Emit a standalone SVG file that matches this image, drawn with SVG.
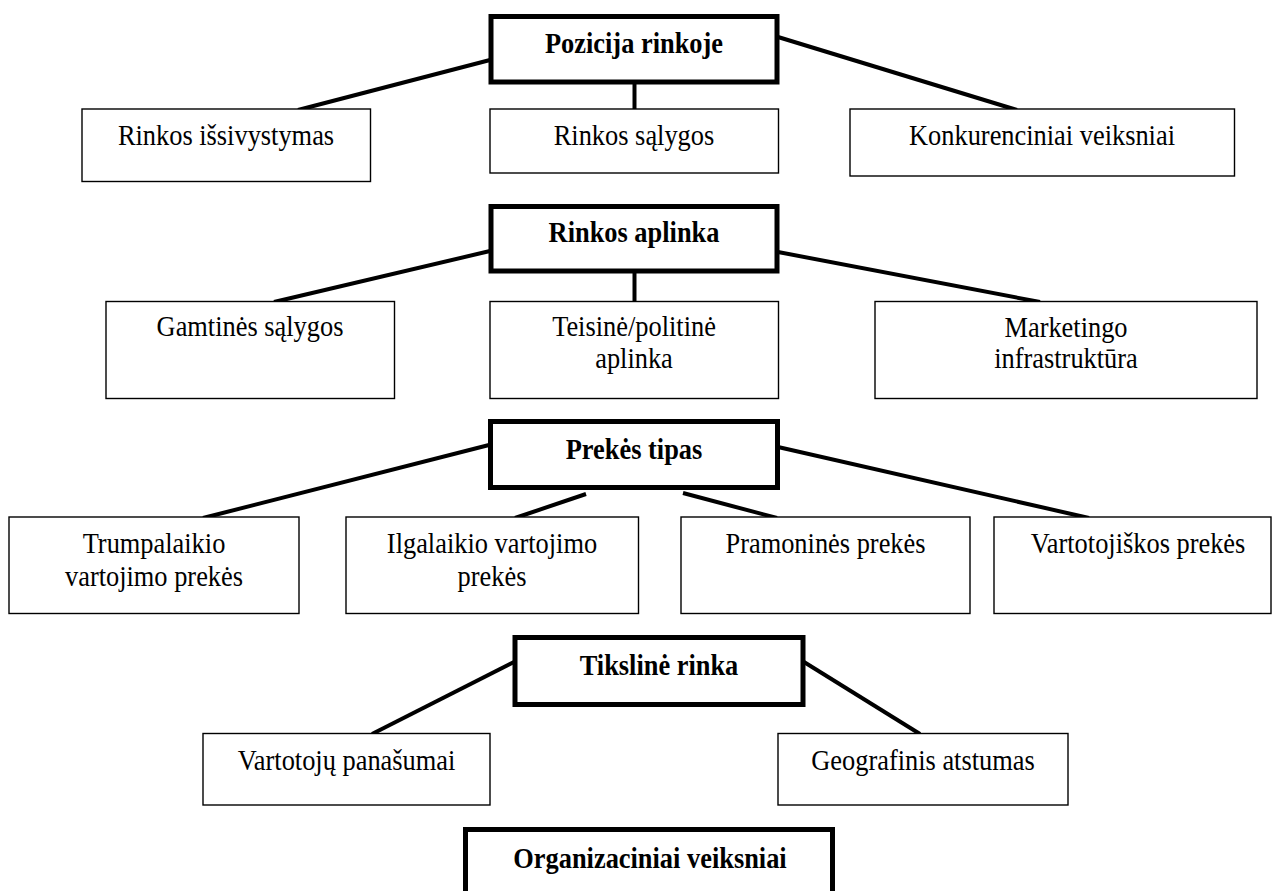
<svg xmlns="http://www.w3.org/2000/svg" width="1273" height="891" viewBox="0 0 1273 891">
  <style>
    .box { fill: #fff; stroke: #000; stroke-width: 1.4; }
    .hub { fill: #fff; stroke: #000; stroke-width: 5; }
    .lbl { font-family: "Liberation Serif", "Times New Roman", serif; font-size: 29px; text-anchor: middle; fill: #000; }
    .hdr { font-weight: bold; }
    .wire { stroke: #000; stroke-width: 4; fill: none; }
  </style>
  <rect width="1273" height="891" fill="#fff"/>

  <!-- connectors -->
  <g id="connectors">
    <line class="wire" x1="490" y1="60" x2="298" y2="110"/>
    <line class="wire" x1="634.5" y1="84" x2="634.5" y2="110"/>
    <line class="wire" x1="778" y1="37" x2="1017" y2="110"/>

    <line class="wire" x1="490" y1="251" x2="274" y2="302"/>
    <line class="wire" x1="634.5" y1="273" x2="634.5" y2="302"/>
    <line class="wire" x1="778" y1="252" x2="1040" y2="302"/>

    <line class="wire" x1="489" y1="445" x2="203" y2="518"/>
    <line class="wire" x1="586" y1="494" x2="515" y2="518"/>
    <line class="wire" x1="683" y1="493" x2="777" y2="518"/>
    <line class="wire" x1="778" y1="447" x2="1089" y2="518"/>

    <line class="wire" x1="514" y1="662" x2="372" y2="734"/>
    <line class="wire" x1="804" y1="662" x2="920" y2="734"/>
  </g>

  <!-- Pozicija rinkoje -->
  <g id="pozicija-rinkoje">
    <rect class="hub" x="491" y="16.5" width="286" height="65.5"/>
    <text class="lbl hdr" transform="translate(634 52.5) scale(0.91 1)">Pozicija rinkoje</text>
  </g>
  <g id="rinkos-issivystymas">
    <rect class="box" x="82" y="109" width="288.5" height="72.5"/>
    <text class="lbl" transform="translate(226 145) scale(0.91 1)">Rinkos išsivystymas</text>
  </g>
  <g id="rinkos-salygos">
    <rect class="box" x="490" y="109" width="288.5" height="64"/>
    <text class="lbl" transform="translate(634 145) scale(0.91 1)">Rinkos sąlygos</text>
  </g>
  <g id="konkurenciniai-veiksniai">
    <rect class="box" x="850" y="109" width="384.5" height="67"/>
    <text class="lbl" transform="translate(1042 145) scale(0.91 1)">Konkurenciniai veiksniai</text>
  </g>

  <!-- Rinkos aplinka -->
  <g id="rinkos-aplinka">
    <rect class="hub" x="491" y="206.5" width="286" height="64.5"/>
    <text class="lbl hdr" transform="translate(634 242) scale(0.91 1)">Rinkos aplinka</text>
  </g>
  <g id="gamtines-salygos">
    <rect class="box" x="106" y="301.5" width="288.5" height="97"/>
    <text class="lbl" transform="translate(250 335.5) scale(0.91 1)">Gamtinės sąlygos</text>
  </g>
  <g id="teisine-politine-aplinka">
    <rect class="box" x="490" y="301.5" width="288.5" height="97"/>
    <text class="lbl" transform="translate(634 335.5) scale(0.91 1)">Teisinė/politinė</text>
    <text class="lbl" transform="translate(634 368) scale(0.91 1)">aplinka</text>
  </g>
  <g id="marketingo-infrastruktura">
    <rect class="box" x="875" y="301.5" width="382" height="97"/>
    <text class="lbl" transform="translate(1066 336.5) scale(0.91 1)">Marketingo</text>
    <text class="lbl" transform="translate(1066 367.5) scale(0.91 1)">infrastruktūra</text>
  </g>

  <!-- Prekės tipas -->
  <g id="prekes-tipas">
    <rect class="hub" x="490.5" y="421.5" width="287" height="66"/>
    <text class="lbl hdr" transform="translate(634 458.5) scale(0.91 1)">Prekės tipas</text>
  </g>
  <g id="trumpalaikio-vartojimo-prekes">
    <rect class="box" x="9" y="517" width="290" height="96.5"/>
    <text class="lbl" transform="translate(154 553) scale(0.91 1)">Trumpalaikio</text>
    <text class="lbl" transform="translate(154 586) scale(0.91 1)">vartojimo prekės</text>
  </g>
  <g id="ilgalaikio-vartojimo-prekes">
    <rect class="box" x="346" y="517" width="292.5" height="96.5"/>
    <text class="lbl" transform="translate(492 553) scale(0.91 1)">Ilgalaikio vartojimo</text>
    <text class="lbl" transform="translate(492 586) scale(0.91 1)">prekės</text>
  </g>
  <g id="pramonines-prekes">
    <rect class="box" x="681" y="517" width="289" height="96.5"/>
    <text class="lbl" transform="translate(825.5 553) scale(0.91 1)">Pramoninės prekės</text>
  </g>
  <g id="vartotojiskos-prekes">
    <rect class="box" x="994" y="517" width="277" height="96.5"/>
    <text class="lbl" transform="translate(1138 553) scale(0.91 1)">Vartotojiškos prekės</text>
  </g>

  <!-- Tikslinė rinka -->
  <g id="tiksline-rinka">
    <rect class="hub" x="515" y="637.5" width="288" height="67"/>
    <text class="lbl hdr" transform="translate(659 674.5) scale(0.91 1)">Tikslinė rinka</text>
  </g>
  <g id="vartotoju-panasumai">
    <rect class="box" x="203" y="733.5" width="287" height="71.5"/>
    <text class="lbl" transform="translate(346.5 769.5) scale(0.91 1)">Vartotojų panašumai</text>
  </g>
  <g id="geografinis-atstumas">
    <rect class="box" x="778" y="733.5" width="290" height="71.5"/>
    <text class="lbl" transform="translate(923 769.5) scale(0.91 1)">Geografinis atstumas</text>
  </g>

  <!-- Organizaciniai veiksniai -->
  <g id="organizaciniai-veiksniai">
    <rect class="hub" x="465.5" y="829.5" width="367" height="70"/>
    <text class="lbl hdr" transform="translate(650 867.5) scale(0.91 1)">Organizaciniai veiksniai</text>
  </g>
</svg>
